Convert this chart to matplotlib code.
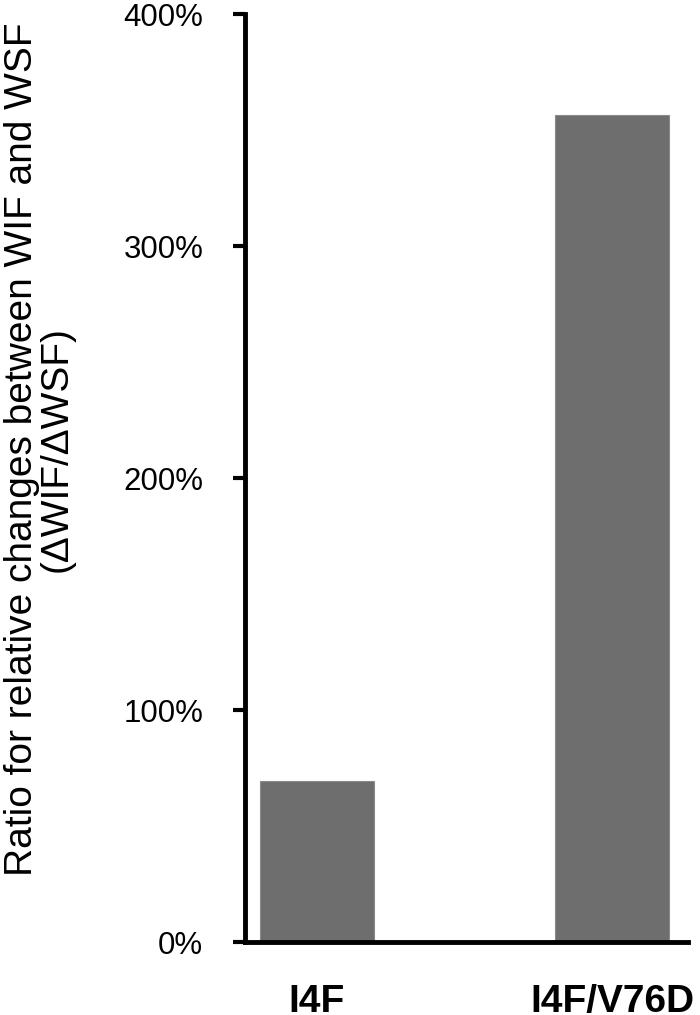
import matplotlib
matplotlib.use("Agg")
import matplotlib.pyplot as plt
from matplotlib.ticker import FuncFormatter

plt.rcParams['font.family'] = ['Liberation Sans', 'DejaVu Sans']

# data
groups = ['I4F', 'I4F/V76D']
ratio = [69.4, 356.8]   # percent
yticks = [0, 100, 200, 300, 400]

fig = plt.figure(figsize=(7, 10.15), dpi=100)
ax = fig.add_axes([0.35, 0.0719, 0.633, 0.914])

ax.bar(range(len(groups)), ratio, width=0.386, color='#6e6e6e',
       edgecolor='#8a8a8a', linewidth=0.8, zorder=2)

ax.set_xlim(-0.244, 1.258)
ax.set_ylim(0, 400)
ax.set_yticks(yticks)
ax.yaxis.set_major_formatter(FuncFormatter(lambda v, p: '%d%%' % v))
ax.set_xticks(range(len(groups)))
ax.set_xticklabels(groups, fontsize=28, fontweight='bold')

ax.tick_params(axis='y', direction='out', length=9, width=3, labelsize=22.5, pad=21)
ax.tick_params(axis='x', length=0, pad=30)

for s in ['top', 'right']:
    ax.spines[s].set_visible(False)
for s in ['left', 'bottom']:
    ax.spines[s].set_linewidth(3.5)

ax.set_ylabel('Ratio for relative changes between WIF and WSF\n(\u0394WIF/\u0394WSF)',
              fontsize=28, linespacing=0.95)
ax.yaxis.set_label_coords(-0.385, 0.531)

fig.savefig('out.png', dpi=100)
